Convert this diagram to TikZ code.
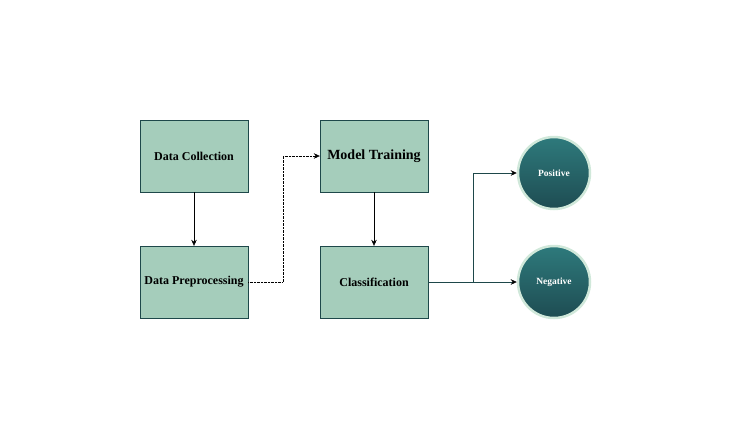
\documentclass[tikz,border=0pt]{standalone}
\usepackage{fontspec}
\setmainfont{Liberation Serif}
\usepackage{tikz}
\definecolor{boxgreen}{RGB}{165,205,187}
\definecolor{darkteal}{RGB}{30,72,74}
\definecolor{topteal}{RGB}{46,122,124}
\definecolor{bottomteal}{RGB}{30,76,82}
\definecolor{glow}{RGB}{208,232,218}
\usetikzlibrary{arrows.meta}
\usetikzlibrary{positioning}

\begin{document}
\begin{tikzpicture}[x=1pt,y=-1pt]
        \tikzset{every node/.style={font=\bfseries},
                stagebox/.style={rectangle, fill=boxgreen, draw=darkteal, thin,
                        minimum width=108pt, minimum height=72pt, font=\bfseries\fontsize{12}{14}\selectfont},
                outcome/.style={circle, draw=glow, line width=2.5pt, top color=topteal, bottom color=bottomteal,
                        minimum size=72pt, text=white, font=\bfseries\fontsize{9.5}{11}\selectfont},
                >={Stealth[black, length=6pt, width=5.5pt]}}

        \useasboundingbox (0,0) rectangle (736,437);

        \node[stagebox] (collect) at (194, 156) {Data Collection};
        \node[stagebox] (prep) at (194, 282) {Data Preprocessing};
        \node[stagebox, font=\bfseries\fontsize{14}{16}\selectfont] (train) at (374, 156) {Model Training};
        \node[stagebox] (classify) at (374, 282) {Classification};
        \node[outcome] (pos) at (554, 173) {Positive};
        \node[outcome] (neg) at (554, 282) {Negative};
        \coordinate (split) at (473, 282);

        \draw [->] (collect) -- (prep);
        \draw [->] (train) -- (classify);
        \draw [->, densely dotted] (prep.east) -- (283, 282) |- (train.west);
        \draw [darkteal] (classify.east) -- (split);
        \draw [->, darkteal] (split) |- (pos.west);
        \draw [->, darkteal] (split) -- (neg.west);

    \end{tikzpicture}
\end{document}
